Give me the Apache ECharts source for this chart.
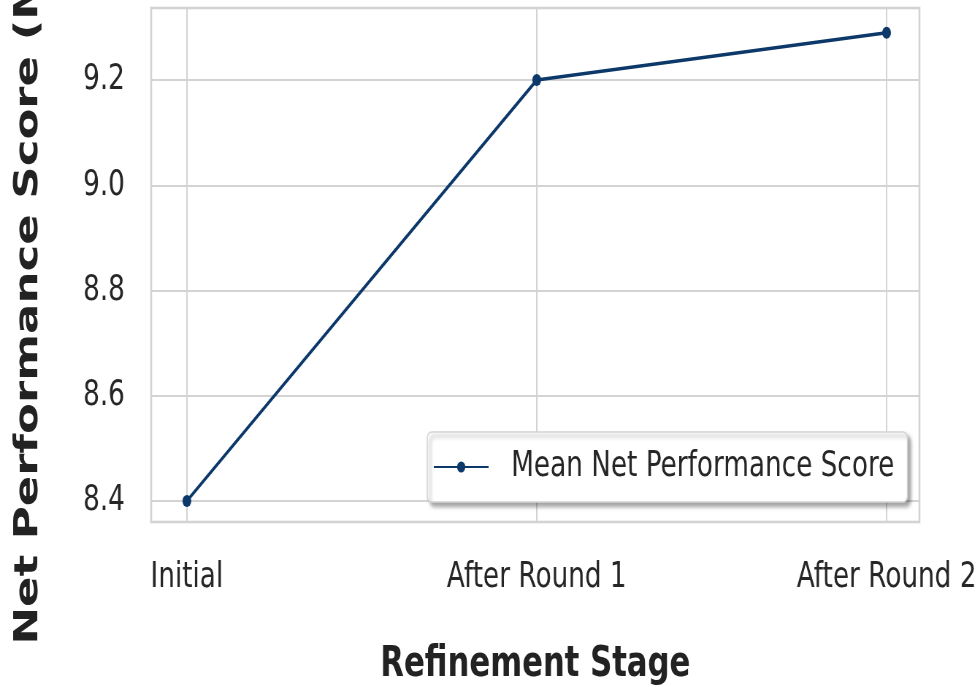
<!DOCTYPE html>
<html>
<head>
<meta charset="utf-8">
<script src="https://cdn.jsdelivr.net/npm/echarts@6/dist/echarts.min.js"></script>
<style>
  html, body { margin: 0; padding: 0; background: #fff; overflow: hidden; }
  /* the reference is squeezed sideways, so draw wide and scale down */
  #chart { width: 1342px; height: 687px; transform: scaleX(0.7303); transform-origin: 0 0; }
</style>
</head>
<body>
<div id="chart"></div>
<script>
const stages = ['Initial', 'After Round 1', 'After Round 2'];
const meanScores = [8.4, 9.2, 9.29];
const seriesName = 'Mean Net Performance Score';

const lineColor = '#0c386a';
const font = 'DejaVu Sans';

let myChart = echarts.init(document.getElementById('chart'));

myChart.setOption({
  animation: false,
  backgroundColor: '#fff',
  grid: {
    left: 207, right: 83, top: 8, bottom: 165,
    outerBoundsMode: 'none',
    containLabel: false,
    show: true, borderColor: '#cccccc', borderWidth: 2.5
  },
  legend: {
    data: [seriesName],
    left: 585, top: 432,
    padding: [17, 18, 17, 8],
    itemWidth: 75, itemHeight: 14,
    backgroundColor: '#fff',
    borderColor: '#d4d4d4', borderWidth: 1.5, borderRadius: 6,
    shadowColor: 'rgba(0,0,0,0.35)', shadowBlur: 4, shadowOffsetX: 4, shadowOffsetY: 4,
    textStyle: { fontFamily: font, fontSize: 36, color: '#262626', padding: [0, 0, 0, 26] }
  },
  xAxis: {
    type: 'value',
    min: -0.102, max: 2.094,
    minInterval: 1,
    name: 'Refinement Stage',
    nameLocation: 'middle',
    nameGap: 122,
    nameTextStyle: { fontFamily: font, fontSize: 42, fontWeight: 'bold', color: '#222' },
    axisLine: { show: false },
    axisTick: { show: false },
    axisLabel: {
      margin: 38,
      showMinLabel: false, showMaxLabel: false,
      fontFamily: font, fontSize: 36, color: '#262626',
      formatter: v => Number.isInteger(v) ? (stages[v] || '') : ''
    },
    splitLine: { show: true, lineStyle: { color: '#d3d3d3', width: 2 } }
  },
  yAxis: {
    type: 'value',
    min: 8.36, max: 9.337,
    splitNumber: 5,
    name: 'Net Performance Score (Mean)',
    nameLocation: 'middle',
    nameGap: 145,
    nameTextStyle: {
      fontFamily: font, fontSize: 45, fontWeight: 'bold', color: '#222',
      padding: [0, 0, 0, 24]
    },
    axisLine: { show: false },
    axisTick: { show: false },
    axisLabel: {
      margin: 36,
      showMinLabel: false, showMaxLabel: false,
      fontFamily: font, fontSize: 36, color: '#262626',
      formatter: v => v.toFixed(1)
    },
    splitLine: { show: true, lineStyle: { color: '#d3d3d3', width: 2 } }
  },
  series: [{
    name: seriesName,
    type: 'line',
    data: meanScores.map((v, i) => [i, v]),
    symbol: 'circle',
    symbolSize: 12,
    lineStyle: { color: lineColor, width: 3.5 },
    itemStyle: { color: lineColor }
  }]
});
</script>
</body>
</html>
